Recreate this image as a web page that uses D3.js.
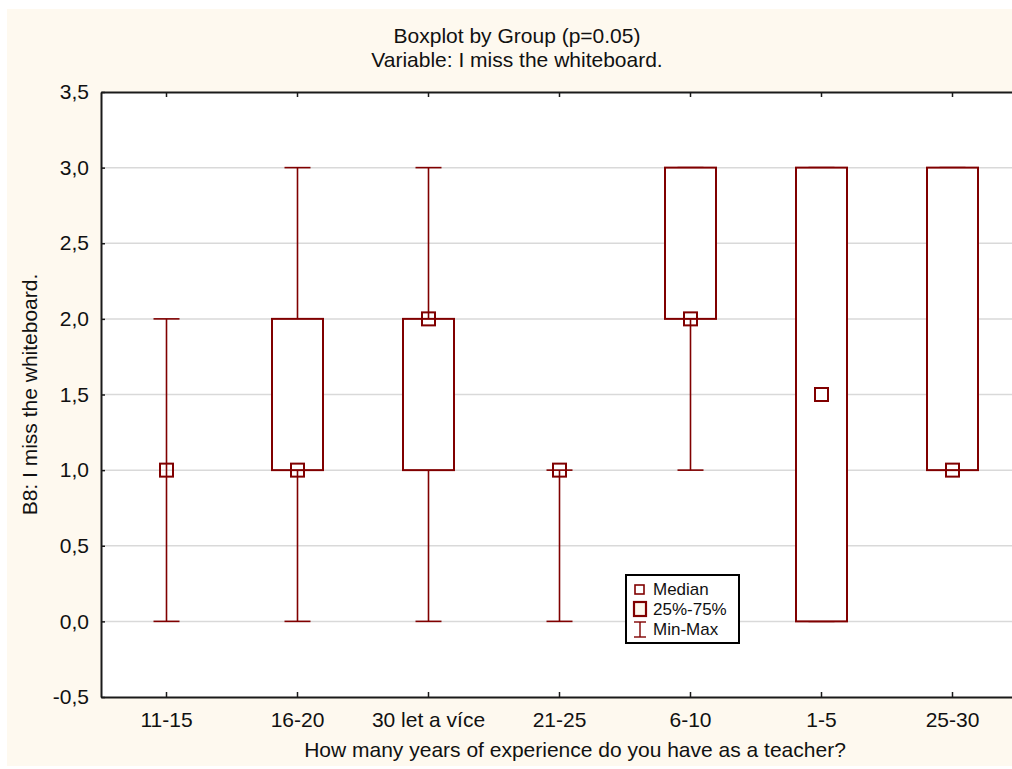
<!DOCTYPE html>
<html><head><meta charset="utf-8">
<script src="https://cdn.jsdelivr.net/npm/d3@7"></script>
<style>body{margin:0;background:#fff;}svg{display:block;font-family:"Liberation Sans",Arial,sans-serif;}</style>
</head><body>
<svg id="c" width="1012" height="769"></svg>
<script>
const categories = ["11-15","16-20","30 let a více","21-25","6-10","1-5","25-30"];
const mins    = [0, 0, 0, 0, 1, 0, 1];
const q1s     = [1, 1, 1, 1, 2, 0, 1];
const medians = [1, 1, 2, 1, 2, 1.5, 1];
const q3s     = [1, 2, 2, 1, 3, 3, 3];
const maxs    = [2, 3, 3, 1, 3, 3, 3];
const yTicks  = [-0.5, 0, 0.5, 1, 1.5, 2, 2.5, 3, 3.5];

const svg = d3.select("#c");
const red = "#800000";
const FF = "Liberation Sans, Arial, sans-serif";
svg.append("rect").attr("x",7).attr("y",9).attr("width",1005).attr("height",757).attr("fill","#fef9ef");

const L=101, R=1018, T=92, B=697;
const x = d3.scaleBand().domain(categories).range([L,R]);
const y = d3.scaleLinear().domain([-0.5,3.5]).range([B,T]);
svg.append("rect").attr("x",L).attr("y",T).attr("width",R-L).attr("height",B-T).attr("fill","#fff");

// grid
svg.append("g").selectAll("line").data(yTicks.slice(1,-1)).join("line")
  .attr("x1",L).attr("x2",R).attr("y1",d=>y(d)).attr("y2",d=>y(d))
  .attr("stroke","#d9d9d9").attr("stroke-width",1.5);

const fmt = d => d3.format(".1f")(d).replace(".",",").replace("−","-");
// axes
const yAxis = svg.append("g").attr("transform",`translate(${L},0)`)
  .call(d3.axisLeft(y).tickValues(yTicks).tickFormat(fmt).tickSizeInner(-4).tickSizeOuter(0).tickPadding(12));
const xAxis = svg.append("g").attr("transform",`translate(0,${B})`)
  .call(d3.axisBottom(x).tickSizeInner(-5).tickSizeOuter(0).tickPadding(15));
const xTop = svg.append("g").attr("transform",`translate(0,${T})`)
  .call(d3.axisTop(x).tickSizeInner(-5).tickSizeOuter(0).tickFormat(""));
[yAxis,xAxis,xTop].forEach(g=>{
  g.attr("font-size",21).attr("font-family",FF);
  g.select(".domain").attr("stroke","#1a1a1a").attr("stroke-width",2);
  g.selectAll(".tick line").attr("stroke","#1a1a1a").attr("stroke-width",1.5);
  g.selectAll(".tick text").style("font-size","21px").attr("fill","#111").style("font-family",FF);
});

const data = categories.map((c,i)=>({c,min:mins[i],q1:q1s[i],med:medians[i],q3:q3s[i],max:maxs[i]}));
const cx = d => x(d.c)+x.bandwidth()/2;
const bw = 51, cw = 26, ms = 13;
const g = svg.append("g");
// whiskers
g.selectAll(".wl").data(data).join("line").attr("x1",cx).attr("x2",cx)
  .attr("y1",d=>y(d.min)).attr("y2",d=>y(d.max)).attr("stroke",red).attr("stroke-width",1.6);
g.selectAll(".cmin").data(data).join("line").attr("x1",d=>cx(d)-cw/2).attr("x2",d=>cx(d)+cw/2)
  .attr("y1",d=>y(d.min)).attr("y2",d=>y(d.min)).attr("stroke",red).attr("stroke-width",1.6);
g.selectAll(".cmax").data(data).join("line").attr("x1",d=>cx(d)-cw/2).attr("x2",d=>cx(d)+cw/2)
  .attr("y1",d=>y(d.max)).attr("y2",d=>y(d.max)).attr("stroke",red).attr("stroke-width",1.6);
// boxes
g.selectAll(".box").data(data.filter(d=>d.q3>d.q1)).join("rect")
  .attr("x",d=>cx(d)-bw/2).attr("width",bw).attr("y",d=>y(d.q3)).attr("height",d=>y(d.q1)-y(d.q3))
  .attr("fill","#fff").attr("stroke",red).attr("stroke-width",2);
// medians
g.selectAll(".med").data(data).join("rect")
  .attr("x",d=>cx(d)-ms/2).attr("y",d=>y(d.med)-ms/2).attr("width",ms).attr("height",ms)
  .attr("fill","none").attr("stroke",red).attr("stroke-width",2);

// titles
const T1 = svg.append("g").attr("font-size",21).attr("font-family",FF).attr("fill","#111");
T1.append("text").attr("x",517).attr("y",43).attr("text-anchor","middle").text("Boxplot by Group (p=0.05)");
T1.append("text").attr("x",517).attr("y",67).attr("text-anchor","middle").text("Variable: I miss the whiteboard.");
T1.append("text").attr("x",575).attr("y",757).attr("text-anchor","middle").text("How many years of experience do you have as a teacher?");
T1.append("text").attr("transform",`translate(37,${(T+B)/2}) rotate(-90)`).attr("text-anchor","middle").text("B8: I miss the whiteboard.");

// legend
const lg = svg.append("g").attr("transform","translate(626,575)");
lg.append("rect").attr("width",113).attr("height",68).attr("fill","#fff").attr("stroke","#000").attr("stroke-width",2);
lg.append("rect").attr("x",9).attr("y",10).attr("width",9).attr("height",9).attr("fill","#fff").attr("stroke",red).attr("stroke-width",1.6);
lg.append("rect").attr("x",8).attr("y",27).attr("width",12).attr("height",14).attr("fill","#fef9ef").attr("stroke",red).attr("stroke-width",2.2);
lg.append("line").attr("x1",14).attr("x2",14).attr("y1",47).attr("y2",62).attr("stroke",red).attr("stroke-width",1.4);
lg.append("line").attr("x1",8).attr("x2",20).attr("y1",47).attr("y2",47).attr("stroke",red).attr("stroke-width",1.4);
lg.append("line").attr("x1",8).attr("x2",20).attr("y1",62).attr("y2",62).attr("stroke",red).attr("stroke-width",1.4);
const lt = [["Median",20],["25%-75%",40],["Min-Max",60]];
lg.selectAll(".lt").data(lt).join("text").attr("x",27).attr("y",d=>d[1]).attr("font-size",17).attr("font-family",FF).attr("fill","#111").text(d=>d[0]);
</script>
</body></html>
